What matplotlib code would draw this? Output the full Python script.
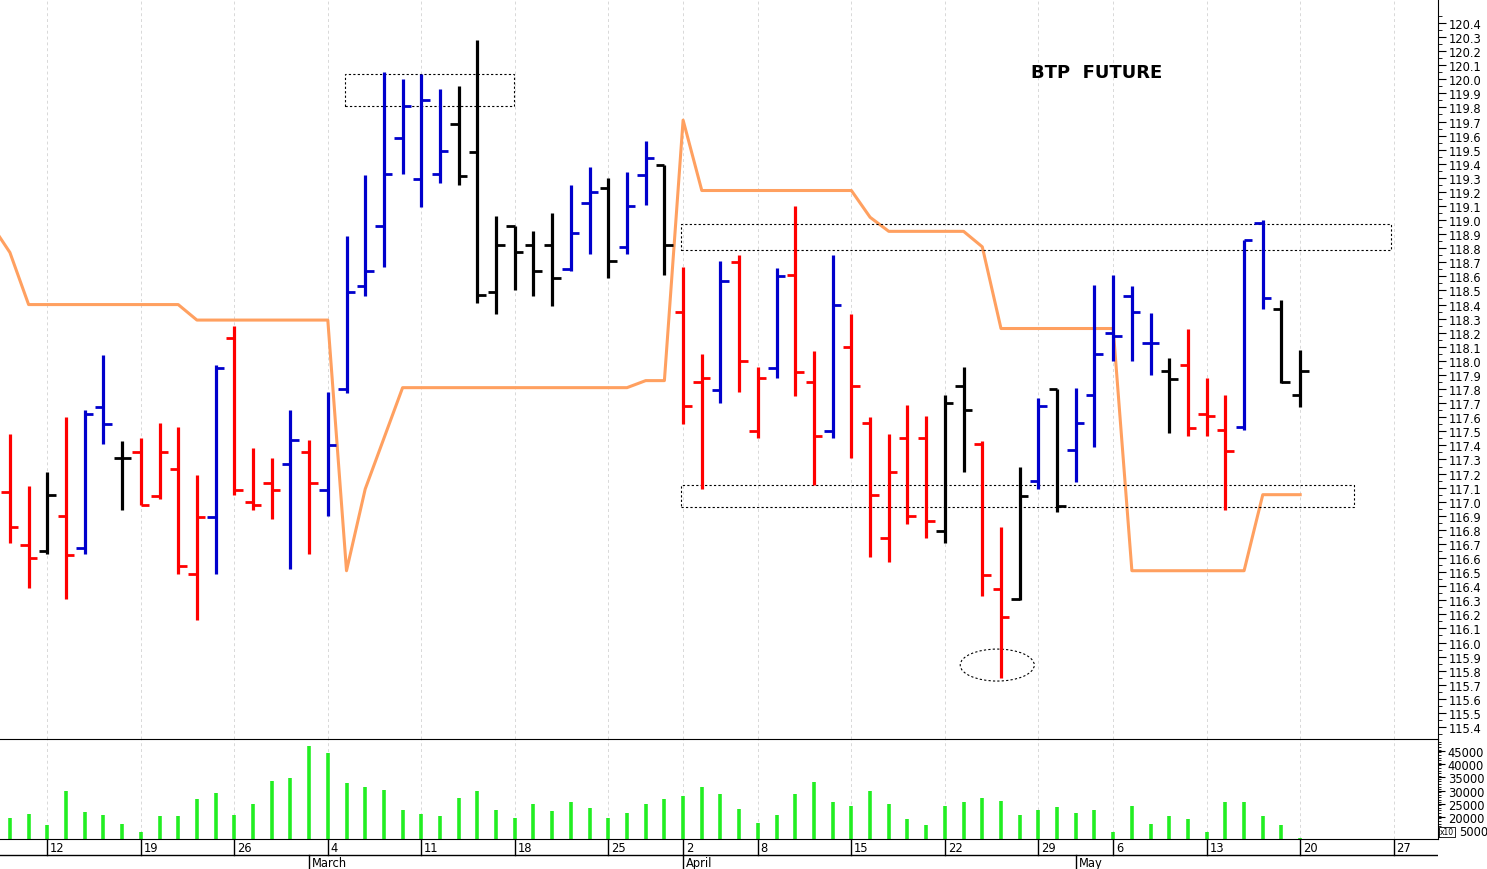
import matplotlib
matplotlib.use("Agg")
import matplotlib.pyplot as plt
from matplotlib.patches import Rectangle, Ellipse
import numpy as np

# ---------------- data ----------------
opens  = [117.07,116.69,116.65,116.90,116.67,117.67,117.31,117.35,117.04,117.23,
          116.49,116.89,118.16,117.00,117.13,117.27,117.35,117.08,117.80,118.53,
          118.96,119.58,119.29,119.33,119.68,119.48,118.49,118.96,118.82,118.82,
          118.65,119.12,119.23,118.81,119.32,119.39,118.35,117.85,117.79,118.70,
          117.50,117.95,118.61,117.85,117.50,118.10,117.56,116.74,117.45,117.45,
          116.79,117.82,117.41,116.38,116.31,117.15,117.80,117.37,117.76,118.20,
          118.46,118.13,117.93,117.97,117.62,117.51,117.53,118.98,118.37,117.76]
highs  = [117.48,117.11,117.21,117.60,117.65,118.04,117.43,117.45,117.56,117.53,
          117.19,117.97,118.25,117.38,117.31,117.65,117.44,117.78,118.89,119.32,
          120.05,120.00,120.04,119.93,119.95,120.28,119.03,118.96,118.92,119.05,
          119.25,119.38,119.30,119.34,119.56,119.39,118.67,118.05,118.71,118.75,
          117.96,118.66,119.10,118.07,118.75,118.33,117.60,117.48,117.69,117.61,
          117.76,117.96,117.43,116.82,117.25,117.74,117.80,117.81,118.54,118.61,
          118.53,118.34,118.02,118.23,117.88,117.76,118.86,119.00,118.43,118.08]
lows   = [116.71,116.39,116.63,116.31,116.63,117.41,116.94,116.98,117.02,116.49,
          116.16,116.49,117.05,116.94,116.88,116.52,116.63,116.90,117.77,118.46,
          118.67,119.33,119.09,119.26,119.25,118.41,118.33,118.50,118.46,118.39,
          118.64,118.76,118.59,118.76,119.11,118.61,117.55,117.09,117.70,117.78,
          117.45,117.88,117.75,117.12,117.45,117.31,116.61,116.57,116.84,116.74,
          116.71,117.21,116.33,115.75,116.30,117.09,116.93,117.14,117.39,118.00,
          118.00,117.90,117.49,117.47,117.47,116.94,117.51,118.37,117.84,117.67]
closes = [116.82,116.60,117.05,116.62,117.62,117.55,117.31,116.98,117.35,116.54,
          116.89,117.95,117.08,116.98,117.08,117.44,117.13,117.40,118.49,118.64,
          119.33,119.81,119.85,119.49,119.31,118.47,118.82,118.77,118.64,118.59,
          118.91,119.20,118.71,119.10,119.44,118.82,117.68,117.88,118.57,118.00,
          117.88,118.60,117.92,117.47,118.40,117.82,117.05,117.21,116.90,116.86,
          117.70,117.65,116.48,116.18,117.04,117.68,116.97,117.56,118.05,118.18,
          118.35,118.13,117.87,117.52,117.61,117.36,118.86,118.45,117.85,117.93]
bar_colors = list("rrkrbbkrrrrbrrrbrbbbbbbbkkk" "kkkbbkbbkrrbrrbrrbrrrrrk" "krrkbkbbbbbkrrrbbkk")
volume = [19620,21260,17180,29920,21900,20880,17440,14270,20230,20500,
          26870,29270,20610,25080,33740,34890,46950,44160,32710,31180,
          30300,22790,21260,20500,27250,29920,22670,19620,24960,22400,
          25570,23430,19620,21530,24810,26870,27880,31450,28890,23050,
          17820,20880,28780,33360,25570,24200,29920,24960,19350,16950,
          24050,25570,27370,25950,20880,22670,23930,21530,22670,14270,
          24200,17440,20380,19240,14500,25570,25570,20380,17060,12000]
orange_idx = list(range(-1, 70))
orange = ([118.97, 118.77] + [118.40]*9 + [118.29]*8 + [116.51, 117.09, 117.45]
          + [117.81]*13 + [117.86]*2 + [119.71] + [119.21]*9 + [119.02]
          + [118.92]*5 + [118.81] + [118.23]*7 + [116.51]*7 + [117.05]*3)
week_idx = [2, 7, 12, 17, 22, 27, 32, 36, 40, 45, 50, 55, 59, 64, 69, 74]
week_labels = ["12", "19", "26", "4", "11", "18", "25", "2", "8", "15", "22", "29", "6", "13", "20", "27"]
month_idx = [16, 36, 57]
month_labels = ["March", "April", "May"]
title = "BTP  FUTURE"

# ---------------- layout ----------------
W, H = 1487, 870
fig = plt.figure(figsize=(W/100, H/100), dpi=100)
def rect(x0, y0, x1, y1):
    return [x0/W, 1-y1/H, (x1-x0)/W, (y1-y0)/H]
ax = fig.add_axes(rect(0, 0, 1438, 740))
axv = fig.add_axes(rect(0, 740, 1438, 840), sharex=ax)
axd = fig.add_axes(rect(0, 840, 1438, 870), sharex=ax)
XL = (-0.53, 76.37)
ax.set_xlim(*XL)

cmap = {"r": "#ff0000", "b": "#0000cc", "k": "#000000"}
tw = 0.45
for i in range(len(opens)):
    c = cmap[bar_colors[i]]
    ax.plot([i, i], [lows[i], highs[i]], color=c, lw=2.3, solid_capstyle="butt")
    ax.plot([i-tw, i], [opens[i], opens[i]], color=c, lw=2.0, solid_capstyle="butt")
    ax.plot([i, i+tw], [closes[i], closes[i]], color=c, lw=2.0, solid_capstyle="butt")
ax.plot(orange_idx, orange, color="#ffa060", lw=2.2, zorder=1)

ax.set_ylim(115.315, 120.57)
ax.yaxis.tick_right()
ax.set_yticks(np.round(np.arange(115.4, 120.45, 0.1), 1))
ax.set_yticklabels([f"{v:.1f}" for v in np.arange(115.4, 120.45, 0.1)], fontsize=8.3)
ax.set_yticks(np.arange(115.35, 120.5, 0.1), minor=True)
ax.tick_params(axis="y", which="major", length=6, direction="out", pad=2)
ax.tick_params(axis="y", which="minor", length=3, direction="out")
ax.tick_params(axis="x", bottom=False, labelbottom=False)
for s in ["left", "top", "bottom"]:
    ax.spines[s].set_visible(False)
for wi in week_idx:
    ax.axvline(wi, color="#d8d8d8", lw=0.7, ls=(0, (3, 3)), zorder=0)

# annotations
dash = dict(fill=False, ls=(0, (2, 2)), lw=0.8, ec="black")
ax.add_patch(Rectangle((17.9, 119.81), 9.05, 0.23, **dash))
ax.add_patch(Rectangle((35.9, 118.79), 37.95, 0.18, **dash))
ax.add_patch(Rectangle((35.9, 116.96), 36.0, 0.16, **dash))
ax.add_patch(Ellipse((52.8, 115.84), 3.96, 0.227, **dash))
ax.text(58.1, 120.05, title, fontsize=13, fontweight="bold", ha="center", va="center",
        family="DejaVu Sans")

# volume
axv.vlines(range(len(volume)), 0, volume, color="#22ee22", lw=2.6)
axv.set_ylim(11700, 49500)
axv.yaxis.tick_right()
axv.set_yticks([20000, 25000, 30000, 35000, 40000, 45000])
axv.set_yticklabels(["20000", "25000", "30000", "35000", "40000", "45000"], fontsize=8.3)
axv.set_yticks(np.arange(12500, 49000, 1000), minor=True)
axv.tick_params(axis="y", which="major", length=5, pad=2)
axv.tick_params(axis="y", which="minor", length=2.5)
axv.tick_params(axis="x", bottom=False, labelbottom=False)
axv.spines["left"].set_visible(False)
for wi in week_idx:
    axv.axvline(wi, color="#d8d8d8", lw=0.7, ls=(0, (3, 3)), zorder=0)
fig.text(1440/W, 1-833/H, "x10", fontsize=5.5, va="center", ha="left",
         bbox=dict(fc="white", ec="black", lw=0.6, pad=0.5))
fig.text(1459/W, 1-833/H, "5000", fontsize=8.3, va="center", ha="left")

# date axis
axd.set_ylim(0, 30)
axd.axis("off")
axd.axhline(14.5, color="black", lw=1)
for wi, lab in zip(week_idx, week_labels):
    axd.plot([wi, wi], [14.5, 30], color="black", lw=1)
    axd.text(wi + 0.15, 21.5, lab, fontsize=8.3, va="center", ha="left")
for mi, lab in zip(month_idx, month_labels):
    axd.plot([mi, mi], [0, 14.5], color="black", lw=1)
    axd.text(mi + 0.15, 6, lab, fontsize=8.3, va="center", ha="left")

fig.savefig("out.png", dpi=100)
